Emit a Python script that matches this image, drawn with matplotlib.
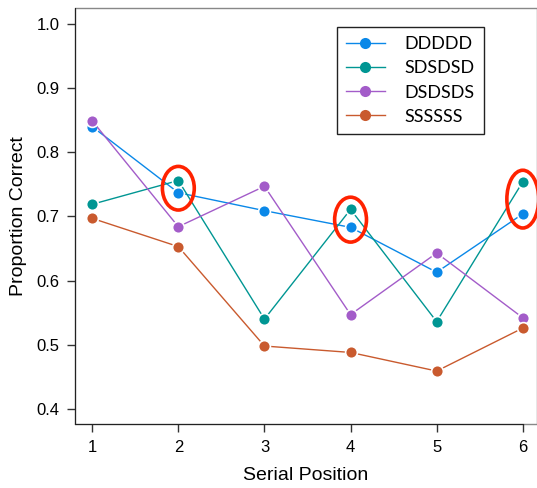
import matplotlib
matplotlib.use("Agg")
import matplotlib.pyplot as plt
from matplotlib.patches import Ellipse, Rectangle

# serial positions and proportion correct per list type
positions = [1, 2, 3, 4, 5, 6]
ddddd = [0.840, 0.737, 0.709, 0.683, 0.613, 0.704]
sdsdsd = [0.719, 0.756, 0.540, 0.711, 0.536, 0.754]
dsdsds = [0.849, 0.684, 0.747, 0.547, 0.643, 0.542]
ssssss = [0.697, 0.653, 0.498, 0.488, 0.459, 0.526]

series_names = ["DDDDD", "SDSDSD", "DSDSDS", "SSSSSS"]
series_values = [ddddd, sdsdsd, dsdsds, ssssss]
series_colors = ["#0a88e8", "#009693", "#a35cc9", "#c95a2e"]

# circled positions (x, centre y, height in data units)
highlights = [(2, 0.744, 0.068), (4, 0.695, 0.070), (6, 0.727, 0.090)]

W, H = 537, 488
fig = plt.figure(figsize=(W / 100, H / 100), dpi=100)
ax = fig.add_axes([75 / W, 1 - 424.3 / H, (537 - 75) / W, (424.3 - 7.5) / H])

for name, vals, col in zip(series_names, series_values, series_colors):
    ax.plot(positions, vals, color=col, lw=1.0, marker="o", markersize=8.5,
            markerfacecolor=col, markeredgecolor="white", markeredgewidth=1.2,
            label=name, zorder=3)

for x, y, h in highlights:
    ax.add_patch(Ellipse((x, y), 0.37, h, fill=False, edgecolor="#ff2200",
                         lw=2.6, zorder=4))

ax.set_xlim(0.8, 6.165)
ax.set_ylim(0.376, 1.0257)

# R-like box: gray frame, dark axis lines
for s in ax.spines.values():
    s.set_visible(False)
ax.add_patch(Rectangle((0, 0), 1, 1, transform=ax.transAxes, fill=False,
                       edgecolor="#888888", lw=1.0, clip_on=False, zorder=1))
ax.spines["left"].set_visible(True)
ax.spines["bottom"].set_visible(True)
ax.spines["left"].set_bounds(0.376, 1.0257)
ax.spines["bottom"].set_bounds(0.8, 6.0)
ax.spines["left"].set_color("#222222")
ax.spines["bottom"].set_color("#222222")

tick_font = "Liberation Sans"
ax.set_xticks(positions)
ax.set_yticks([0.4, 0.5, 0.6, 0.7, 0.8, 0.9, 1.0])
ax.set_yticklabels(["0.4", "0.5", "0.6", "0.7", "0.8", "0.9", "1.0"])
ax.tick_params(direction="out", length=6, width=1, color="#333333",
               labelsize=12, pad=5)
for lab in ax.get_xticklabels() + ax.get_yticklabels():
    lab.set_fontfamily(tick_font)

ax.set_xlabel("Serial Position", fontsize=14, family=tick_font, labelpad=9)
ax.set_ylabel("Proportion Correct", fontsize=14, family=tick_font, labelpad=7)

leg = ax.legend(loc="upper left", bbox_to_anchor=(336.7 / W, 1 - 27.3 / H),
                bbox_transform=fig.transFigure, frameon=True, fancybox=False,
                edgecolor="#222222", framealpha=1, borderpad=0.5,
                handlelength=2.15, handletextpad=1.1, labelspacing=0.45,
                borderaxespad=0, prop={"family": "Lato", "size": 13})
leg.get_frame().set_linewidth(1.0)
for h in leg.legend_handles:
    h.set_markeredgewidth(0)
    h.set_markersize(8)

fig.savefig("out.png", dpi=100)
